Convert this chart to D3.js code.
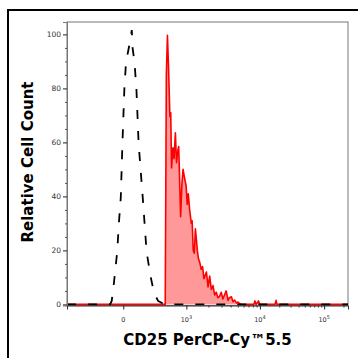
<!DOCTYPE html>
<html lang="en">
<head>
<meta charset="UTF-8">
<title>CD25 PerCP-Cy5.5 histogram</title>
<script src="https://d3js.org/d3.v7.min.js"></script>
<style>
  body { margin: 0; background: #fff; }
  .tick text { font-family: "DejaVu Sans", sans-serif; fill: #333; }
  .title { font-family: "DejaVu Sans", sans-serif; font-weight: bold; font-size: 15px; fill: #000; }
</style>
</head>
<body>
<svg width="358" height="358"></svg>
<script>
// stained sample (red), channel -> relative count
const redCh = [0, 358, 362, 366, 370, 375, 378, 381, 386, 390, 395, 399, 404, 407, 410, 414, 419, 423, 428, 434,
  438, 442, 447, 453, 456, 460, 464, 468, 475, 479, 484, 489, 494, 499, 508, 514, 520, 526, 532, 538,
  544, 550, 556, 562, 568, 574, 580, 587, 592, 599, 605, 611, 618, 623, 630, 641, 681, 685, 689, 698,
  702, 758, 762, 765, 1024];
const redCount = [0, 0, 85, 99.7, 88, 69.5, 71, 50.5, 58, 54, 63.6, 52.5, 57, 58.5, 48, 32.5, 45, 50, 47, 44,
  37, 41, 35, 30, 31, 20, 19, 28, 20, 17, 15.5, 13, 14, 9.5, 12, 6.5, 10.5, 5.5, 7, 3.5,
  4.5, 2.5, 3, 4.5, 2, 3.5, 5, 1.5, 2.5, 2.8, 1, 1.6, 0.5, 0.9, 0.2, 0, 0, 1.3, 0, 1.3,
  0, 0, 1.5, 0, 0];

// isotype control (black dashed)
const isoCh = [0, 157, 163, 171, 183, 189, 196, 202, 209, 215, 227, 230, 236, 239, 246, 253, 261, 276, 290, 305,
  317, 332, 346, 354, 1024];
const isoCount = [0, 0, 1.3, 8, 19.5, 30, 39.6, 59.6, 79.7, 89.7, 96, 97.5, 101.6, 95, 89.7, 79.7, 59.6, 39.6, 19.5, 10.2,
  4.3, 1.3, 0.5, 0, 0];

const yTicks = [0, 20, 40, 60, 80, 100];
const yMinor = [5, 10, 15, 25, 30, 35, 45, 50, 55, 65, 70, 75, 85, 90, 95];
const xTickCh = [205, 435, 703, 937];
const xTickBase = ["0", "10", "10", "10"];
const xTickExp = ["", "3", "4", "5"];

const svg = d3.select("svg");
const plot = { left: 67, right: 348, top: 22, bottom: 305.5 };

const x = d3.scaleLinear().domain([0, 1024]).range([plot.left, plot.right]);
const y = d3.scaleLinear().domain([-0.4, 104.6]).range([plot.bottom, plot.top]);

// outer frame
svg.append("path")
  .attr("d", "M8,358V10H358")
  .attr("fill", "none")
  .attr("stroke", "#000")
  .attr("stroke-width", 2);

svg.append("clipPath").attr("id", "clip")
  .append("rect")
  .attr("x", plot.left).attr("y", plot.top)
  .attr("width", plot.right - plot.left).attr("height", plot.bottom - plot.top + 1);

// plot box
svg.append("rect")
  .attr("x", plot.left).attr("y", plot.top)
  .attr("width", plot.right - plot.left).attr("height", plot.bottom - plot.top)
  .attr("fill", "none")
  .attr("stroke", "#777");

const g = svg.append("g").attr("clip-path", "url(#clip)");

const red = redCh.map((c, i) => ({ c, n: redCount[i] }));
const iso = isoCh.map((c, i) => ({ c, n: isoCount[i] }));

g.append("path").datum(red)
  .attr("fill", "rgba(255,0,0,0.4)")
  .attr("d", d3.area().x(d => x(d.c)).y0(y(0)).y1(d => y(d.n)));

g.append("path").datum(red)
  .attr("fill", "none")
  .attr("stroke", "#ff0000")
  .attr("stroke-width", 1.6)
  .attr("stroke-linejoin", "round")
  .attr("d", d3.line().x(d => x(d.c)).y(d => y(d.n)));

g.append("path").datum(iso)
  .attr("fill", "none")
  .attr("stroke", "#000")
  .attr("stroke-width", 1.8)
  .attr("stroke-dasharray", "9,12")
  .attr("d", d3.line().x(d => x(d.c)).y(d => y(d.n)));

// y axis
const yAxis = svg.append("g")
  .attr("transform", `translate(${plot.left},0)`)
  .call(d3.axisLeft(y).tickValues(yTicks).tickSize(4).tickPadding(2));
yAxis.select(".domain").attr("stroke", "#777");
yAxis.selectAll(".tick line").attr("stroke", "#222");
yAxis.selectAll(".tick text").style("font-size", "7.5px");

const yMin = svg.append("g")
  .attr("transform", `translate(${plot.left},0)`)
  .call(d3.axisLeft(y).tickValues(yMinor).tickSize(2).tickFormat(""));
yMin.select(".domain").remove();
yMin.selectAll(".tick line").attr("stroke", "#555");

// x axis, minor ticks spaced by log within each decade
const xMinor = [];
for (let k = 1; k < xTickCh.length; k++) {
  const a = xTickCh[k], b = k + 1 < xTickCh.length ? xTickCh[k + 1] : a + (a - xTickCh[k - 1]);
  for (let m = 2; m <= 9; m++) {
    const c = a + (b - a) * Math.log10(m);
    if (c <= 1024) xMinor.push(c);
  }
}

const xAxis = svg.append("g")
  .attr("transform", `translate(0,${plot.bottom})`)
  .call(d3.axisBottom(x).tickValues(xTickCh).tickSize(4).tickFormat(""));
xAxis.select(".domain").attr("stroke", "#333");
xAxis.selectAll(".tick line").attr("stroke", "#222");

const xMin = svg.append("g")
  .attr("transform", `translate(0,${plot.bottom})`)
  .call(d3.axisBottom(x).tickValues(xMinor).tickSize(2).tickFormat(""));
xMin.select(".domain").remove();
xMin.selectAll(".tick line").attr("stroke", "#333");

const xLab = svg.append("g")
  .selectAll("text")
  .data(xTickCh)
  .join("text")
  .attr("x", d => x(d))
  .attr("y", 322)
  .attr("text-anchor", "middle")
  .style("font-family", "DejaVu Sans, sans-serif")
  .style("font-size", "6.5px")
  .attr("fill", "#333")
  .text((d, i) => xTickBase[i]);
xLab.filter((d, i) => xTickExp[i] !== "")
  .append("tspan")
  .attr("dy", -3.5)
  .style("font-size", "5px")
  .text((d) => xTickExp[xTickCh.indexOf(d)]);

// titles
svg.append("text")
  .attr("class", "title")
  .attr("text-anchor", "middle")
  .attr("transform", "translate(33,162) rotate(-90)")
  .text("Relative Cell Count");

svg.append("text")
  .attr("class", "title")
  .attr("text-anchor", "middle")
  .attr("x", 207.5)
  .attr("y", 344.5)
  .text("CD25 PerCP-Cy™5.5");
</script>
</body>
</html>
